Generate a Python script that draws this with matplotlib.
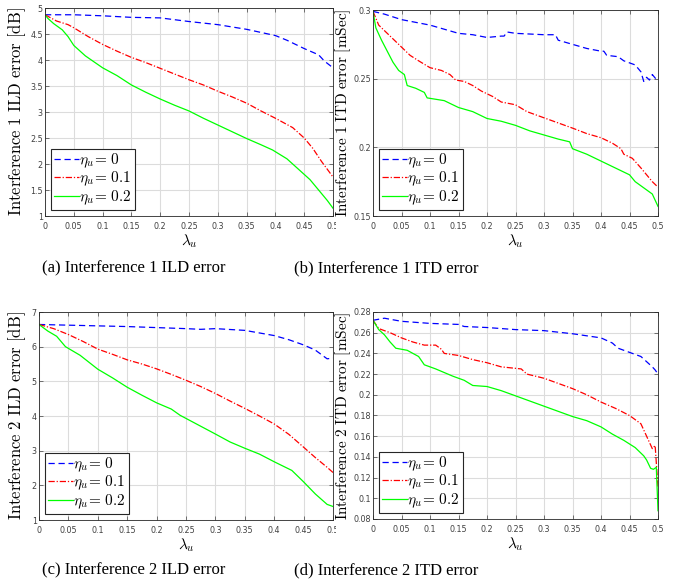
import matplotlib
matplotlib.use("Agg")
import matplotlib.pyplot as plt
from matplotlib.transforms import Bbox, TransformedBbox

plt.rcParams['mathtext.fontset'] = 'cm'

# ---- data ----
# (a) Interference 1 ILD error [dB]
a_x0 = [0, 0.05, 0.1, 0.15, 0.2, 0.25, 0.3, 0.35, 0.4, 0.42, 0.45, 0.475, 0.485, 0.5]
a_y0 = [4.87, 4.87, 4.85, 4.82, 4.81, 4.74, 4.68, 4.59, 4.47, 4.38, 4.22, 4.1, 3.98, 3.85]
a_x1 = [0, 0.02, 0.04, 0.05, 0.075, 0.1, 0.125, 0.15, 0.175, 0.2, 0.225, 0.25, 0.275, 0.3,
        0.325, 0.35, 0.375, 0.4, 0.43, 0.45, 0.465, 0.48, 0.5]
a_y1 = [4.87, 4.75, 4.68, 4.62, 4.45, 4.3, 4.17, 4.05, 3.95, 3.84, 3.73, 3.62, 3.52, 3.4,
        3.29, 3.17, 3.02, 2.88, 2.7, 2.5, 2.3, 2.05, 1.75]
a_x2 = [0, 0.005, 0.015, 0.025, 0.03, 0.04, 0.05, 0.07, 0.1, 0.125, 0.15, 0.175, 0.2, 0.225,
        0.25, 0.275, 0.3, 0.325, 0.35, 0.375, 0.395, 0.42, 0.44, 0.45, 0.46, 0.475, 0.49, 0.5]
a_y2 = [4.87, 4.8, 4.7, 4.62, 4.58, 4.45, 4.28, 4.08, 3.85, 3.7, 3.52, 3.38, 3.25, 3.13,
        3.02, 2.88, 2.75, 2.62, 2.49, 2.37, 2.27, 2.1, 1.9, 1.8, 1.7, 1.5, 1.3, 1.15]

# (b) Interference 1 ITD error [mSec]
b_x0 = [0, 0.02, 0.05, 0.075, 0.1, 0.125, 0.15, 0.175, 0.2, 0.225, 0.23, 0.235, 0.25, 0.3,
        0.32, 0.325, 0.35, 0.375, 0.4, 0.405, 0.41, 0.43, 0.44, 0.46, 0.47, 0.475, 0.48,
        0.485, 0.49, 0.5]
b_y0 = [0.299, 0.297, 0.293, 0.291, 0.289, 0.286, 0.283, 0.282, 0.280, 0.281, 0.281, 0.284,
        0.283, 0.282, 0.282, 0.278, 0.275, 0.272, 0.270, 0.270, 0.267, 0.266, 0.263, 0.26,
        0.255, 0.248, 0.251, 0.249, 0.253, 0.248]
b_x1 = [0, 0.01, 0.025, 0.04, 0.05, 0.065, 0.08, 0.1, 0.12, 0.135, 0.145, 0.16, 0.175, 0.19,
        0.2, 0.21, 0.225, 0.25, 0.27, 0.29, 0.31, 0.33, 0.35, 0.375, 0.4, 0.42, 0.435, 0.44,
        0.455, 0.47, 0.48, 0.49, 0.5]
b_y1 = [0.299, 0.289, 0.283, 0.277, 0.273, 0.267, 0.263, 0.258, 0.256, 0.253, 0.249, 0.248,
        0.245, 0.241, 0.239, 0.237, 0.233, 0.231, 0.226, 0.223, 0.220, 0.217, 0.214, 0.210,
        0.207, 0.203, 0.199, 0.195, 0.192, 0.185, 0.180, 0.175, 0.171]
b_x2 = [0, 0.005, 0.015, 0.025, 0.035, 0.045, 0.055, 0.06, 0.075, 0.09, 0.095, 0.125, 0.15,
        0.175, 0.19, 0.2, 0.225, 0.25, 0.275, 0.3, 0.325, 0.345, 0.35, 0.375, 0.4, 0.425,
        0.45, 0.46, 0.48, 0.49, 0.5]
b_y2 = [0.299, 0.287, 0.278, 0.270, 0.262, 0.256, 0.253, 0.245, 0.243, 0.240, 0.236, 0.234,
        0.229, 0.226, 0.223, 0.221, 0.219, 0.216, 0.212, 0.209, 0.206, 0.204, 0.199, 0.195,
        0.190, 0.185, 0.180, 0.175, 0.169, 0.166, 0.157]

# (c) Interference 2 ILD error [dB]
c_x0 = [0, 0.05, 0.1, 0.15, 0.2, 0.25, 0.275, 0.3, 0.35, 0.4, 0.425, 0.45, 0.47, 0.49, 0.5]
c_y0 = [6.64, 6.62, 6.6, 6.58, 6.55, 6.52, 6.50, 6.52, 6.47, 6.32, 6.2, 6.05, 5.9, 5.65, 5.67]
c_x1 = [0, 0.025, 0.05, 0.075, 0.1, 0.125, 0.15, 0.175, 0.2, 0.225, 0.25, 0.275, 0.3, 0.325,
        0.35, 0.375, 0.4, 0.425, 0.45, 0.47, 0.49, 0.5]
c_y1 = [6.64, 6.52, 6.35, 6.15, 5.93, 5.78, 5.62, 5.5, 5.36, 5.2, 5.03, 4.85, 4.65, 4.43,
        4.22, 4.0, 3.77, 3.47, 3.1, 2.8, 2.52, 2.37]
c_x2 = [0, 0.015, 0.03, 0.045, 0.07, 0.1, 0.125, 0.15, 0.175, 0.2, 0.225, 0.24, 0.27, 0.3,
        0.325, 0.35, 0.375, 0.4, 0.43, 0.45, 0.47, 0.49, 0.5]
c_y2 = [6.64, 6.45, 6.3, 6.0, 5.75, 5.35, 5.1, 4.83, 4.6, 4.38, 4.2, 4.02, 3.75, 3.48,
        3.25, 3.07, 2.9, 2.68, 2.43, 2.1, 1.75, 1.45, 1.39]

# (d) Interference 2 ITD error [mSec]
d_x0 = [0, 0.02, 0.05, 0.1, 0.15, 0.16, 0.2, 0.25, 0.3, 0.35, 0.4, 0.42, 0.43, 0.45, 0.47,
        0.48, 0.49, 0.495, 0.5]
d_y0 = [0.272, 0.274, 0.271, 0.269, 0.268, 0.266, 0.265, 0.263, 0.262, 0.259, 0.255, 0.250,
        0.245, 0.241, 0.237, 0.232, 0.227, 0.224, 0.220]
d_x1 = [0, 0.01, 0.03, 0.05, 0.07, 0.09, 0.11, 0.12, 0.125, 0.15, 0.175, 0.2, 0.225, 0.26,
        0.27, 0.3, 0.325, 0.35, 0.375, 0.4, 0.425, 0.45, 0.47, 0.48, 0.49, 0.495, 0.5]
d_y1 = [0.272, 0.264, 0.260, 0.255, 0.251, 0.248, 0.248, 0.244, 0.240, 0.238, 0.234, 0.231,
        0.227, 0.225, 0.220, 0.216, 0.211, 0.206, 0.200, 0.193, 0.187, 0.180, 0.172, 0.160,
        0.148, 0.151, 0.110]
d_x2 = [0, 0.01, 0.02, 0.03, 0.04, 0.06, 0.08, 0.09, 0.11, 0.14, 0.16, 0.175, 0.2, 0.225,
        0.25, 0.275, 0.3, 0.325, 0.35, 0.375, 0.4, 0.42, 0.44, 0.46, 0.475, 0.48, 0.487,
        0.492, 0.497, 0.5]
d_y2 = [0.272, 0.263, 0.258, 0.251, 0.245, 0.243, 0.237, 0.229, 0.225, 0.218, 0.214, 0.209,
        0.208, 0.204, 0.199, 0.194, 0.189, 0.184, 0.179, 0.175, 0.169, 0.162, 0.156, 0.149,
        0.141, 0.137, 0.129, 0.128, 0.130, 0.088]

x_ticks = [0, 0.05, 0.1, 0.15, 0.2, 0.25, 0.3, 0.35, 0.4, 0.45, 0.5]
x_ticklabels = ['0', '0.05', '0.1', '0.15', '0.2', '0.25', '0.3', '0.35', '0.4', '0.45', '0.5']
legend_labels = [r'$\eta_u\!=\,0$', r'$\eta_u\!=\,0.1$', r'$\eta_u\!=\,0.2$']

W, H = 675, 583
panels = [
    # rect, xs, ys, ylim, yticks, yticklabels, ylabel, ylabel x (px), caption, caption pos
    ([45 / W, 1 - 216 / H, 288 / W, 208 / H],
     [a_x0, a_x1, a_x2], [a_y0, a_y1, a_y2], (1, 5),
     [1, 1.5, 2, 2.5, 3, 3.5, 4, 4.5, 5], ['1', '1.5', '2', '2.5', '3', '3.5', '4', '4.5', '5'],
     r'$\mathrm{Interference\ 1\ ILD\ error\ [dB]}$', 28, '(a) Interference 1 ILD error', (134, 268)),
    ([373 / W, 1 - 216 / H, 285 / W, 206 / H],
     [b_x0, b_x1, b_x2], [b_y0, b_y1, b_y2], (0.15, 0.3),
     [0.15, 0.2, 0.25, 0.3], ['0.15', '0.2', '0.25', '0.3'],
     r'$\mathrm{Interference\ 1\ ITD\ error\ [mSec]}$', 353, '(b) Interference 1 ITD error', (386, 268)),
    ([39 / W, 1 - 520 / H, 294 / W, 208 / H],
     [c_x0, c_x1, c_x2], [c_y0, c_y1, c_y2], (1, 7),
     [1, 2, 3, 4, 5, 6, 7], ['1', '2', '3', '4', '5', '6', '7'],
     r'$\mathrm{Interference\ 2\ ILD\ error\ [dB]}$', 28, '(c) Interference 2 ILD error', (134, 570)),
    ([373 / W, 1 - 519 / H, 285 / W, 207 / H],
     [d_x0, d_x1, d_x2], [d_y0, d_y1, d_y2], (0.08, 0.28),
     [0.08, 0.1, 0.12, 0.14, 0.16, 0.18, 0.2, 0.22, 0.24, 0.26, 0.28],
     ['0.08', '0.1', '0.12', '0.14', '0.16', '0.18', '0.2', '0.22', '0.24', '0.26', '0.28'],
     r'$\mathrm{Interference\ 2\ ITD\ error\ [mSec]}$', 353, '(d) Interference 2 ITD error', (386, 570)),
]

styles = [('#0000ff', (0, (5, 3))), ('#ff0000', (0, (5, 1.5, 1, 1.5))), ('#00ff00', '-')]

fig = plt.figure(figsize=(6.75, 5.83), dpi=100)
left_clip = TransformedBbox(Bbox([[0, 0], [336 / W, 1]]), fig.transFigure)

for rect, xs, ys, ylim, yt, ytl, ylab, ylab_x, cap, cpos in panels:
    ax = fig.add_axes(rect)
    for (col, ls), x, y, lab in zip(styles, xs, ys, legend_labels):
        ax.plot(x, y, color=col, linestyle=ls, linewidth=0.9, label=lab)
    ax.set_xlim(0, 0.5)
    ax.set_ylim(*ylim)
    ax.set_xticks(x_ticks)
    ax.set_xticklabels(x_ticklabels)
    ax.set_yticks(yt)
    ax.set_yticklabels(ytl)
    ax.tick_params(direction='in', length=3, width=0.5, labelsize=5.8,
                   colors='#404040', top=True, right=True)
    ax.tick_params(axis='x', pad=4)
    ax.tick_params(axis='y', pad=1.5)
    ax.grid(True, color='#dcdcdc', linewidth=0.8)
    ax.set_axisbelow(True)
    for s in ax.spines.values():
        s.set_color('#262626')
        s.set_linewidth(0.6)
    ax.set_xlabel(r'$\lambda_u$', fontsize=11, labelpad=1)
    ax.set_ylabel(ylab, fontsize=12 if rect[0] < 0.5 else 11)
    ax.yaxis.set_label_coords((ylab_x - rect[0] * W) / (rect[2] * W), 0.5)
    if rect[0] < 0.5:
        # left column: the last x tick label is cut at the right edge
        for t in ax.get_xticklabels():
            t.set_clip_box(left_clip)
            t.set_clip_on(True)
    leg = ax.legend(loc='lower left', fontsize=11, fancybox=False, framealpha=1,
                    edgecolor='#262626', handlelength=1.6, handletextpad=0.05,
                    labelspacing=0.0, borderpad=0.2, borderaxespad=0.4)
    leg.get_frame().set_linewidth(0.8)
    fig.text(cpos[0] / W, 1 - cpos[1] / H, cap, ha='center', va='center',
             fontsize=12, family='Liberation Serif')

fig.savefig('out.png', dpi=100)
